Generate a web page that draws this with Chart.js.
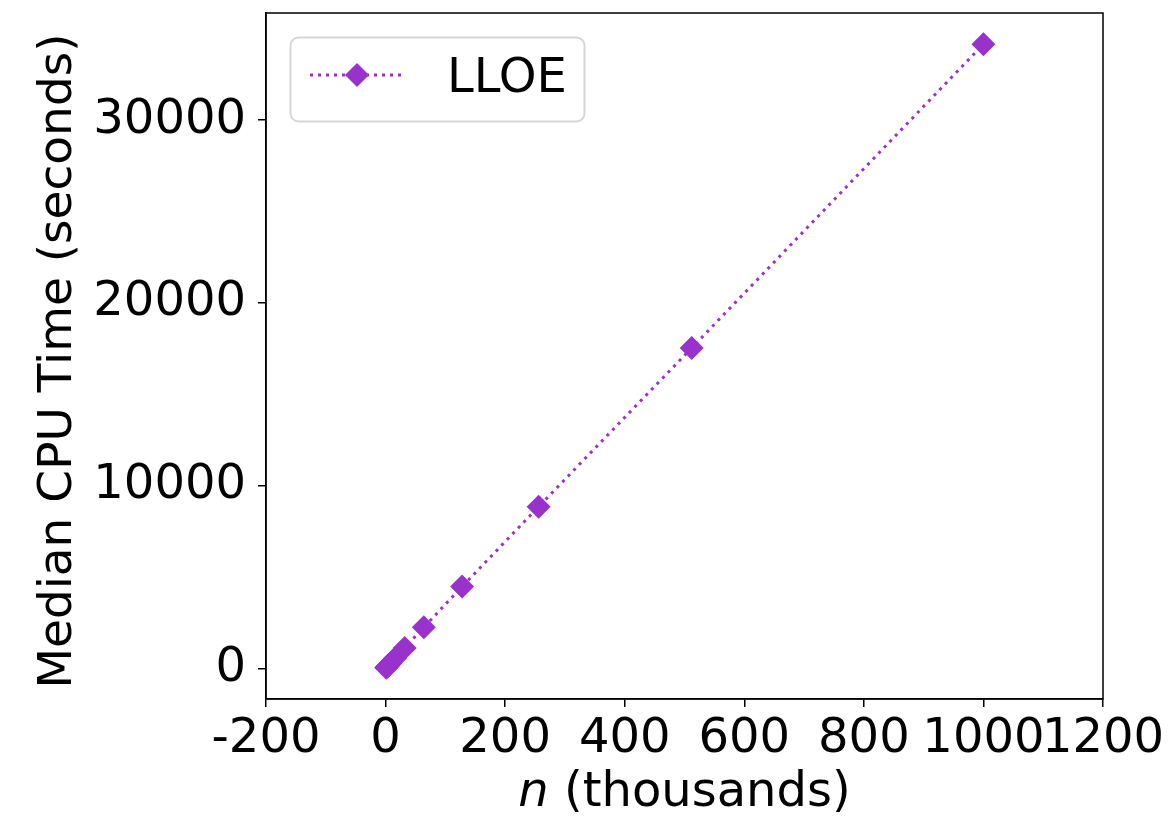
<!DOCTYPE html>
<html>
<head>
<meta charset="utf-8">
<script src="https://cdn.jsdelivr.net/npm/chart.js@4.4.1/dist/chart.umd.min.js"></script>
<style>
  html, body { margin: 0; padding: 0; background: #fff; }
  #wrap { width: 1174px; height: 825px; }
</style>
</head>
<body>
<div id="wrap"><canvas id="chart" width="1174" height="825"></canvas></div>
<script>
// --- Data ---
const nThousands = [1, 2, 4, 8, 16, 32, 64, 128, 256, 512, 1000];
const cpuSeconds = [35, 70, 140, 280, 560, 1120, 2255, 4480, 8850, 17530, 34150];
const xTicks = [-200, 0, 200, 400, 600, 800, 1000, 1200];
const yTicks = [0, 10000, 20000, 30000];
const seriesLabel = 'LLOE';
const xTitleItalic = 'n';
const xTitleRest = ' (thousands)';
const yTitle = 'Median CPU Time (seconds)';

const PURPLE = '#9932CC';
const FONT = '"DejaVu Sans", sans-serif';
const FONT_SIZE = 48;

// frame on top and right (matplotlib style box)
const framePlugin = {
  id: 'frame',
  afterDatasetsDraw(chart) {
    const { ctx, chartArea: a } = chart;
    ctx.save();
    ctx.strokeStyle = '#000';
    ctx.lineWidth = 1.5;
    ctx.strokeRect(a.left, a.top, a.right - a.left, a.bottom - a.top);
    ctx.restore();
  }
};

// axis titles, x title has an italic n
const titlesPlugin = {
  id: 'titles',
  afterDraw(chart) {
    const { ctx, chartArea: a } = chart;
    ctx.save();
    ctx.fillStyle = '#000';
    ctx.textBaseline = 'middle';
    ctx.textAlign = 'center';
    ctx.font = `47px ${FONT}`;
    ctx.translate(59, (a.top + a.bottom) / 2 + 5);
    ctx.rotate(-Math.PI / 2);
    ctx.fillText(yTitle, 0, 0);
    ctx.restore();

    ctx.save();
    ctx.fillStyle = '#000';
    ctx.textBaseline = 'alphabetic';
    ctx.textAlign = 'left';
    ctx.font = `italic ${FONT_SIZE}px ${FONT}`;
    const w1 = ctx.measureText(xTitleItalic).width;
    ctx.font = `${FONT_SIZE}px ${FONT}`;
    const w2 = ctx.measureText(xTitleRest).width;
    const x0 = (a.left + a.right) / 2 - (w1 + w2) / 2;
    const yb = 806;
    ctx.font = `italic ${FONT_SIZE}px ${FONT}`;
    ctx.fillText(xTitleItalic, x0, yb);
    ctx.font = `${FONT_SIZE}px ${FONT}`;
    ctx.fillText(xTitleRest, x0 + w1, yb);
    ctx.restore();
  }
};

// legend box inside the plot, upper left
const legendPlugin = {
  id: 'insideLegend',
  afterDraw(chart) {
    const { ctx } = chart;
    ctx.save();
    ctx.beginPath();
    ctx.roundRect(290.5, 37.5, 294, 84, 8);
    ctx.fillStyle = 'rgba(255,255,255,0.8)';
    ctx.fill();
    ctx.strokeStyle = '#d6d6d6';
    ctx.lineWidth = 2;
    ctx.stroke();

    ctx.beginPath();
    ctx.setLineDash([3, 5]);
    ctx.strokeStyle = PURPLE;
    ctx.lineWidth = 3;
    ctx.moveTo(310, 75);
    ctx.lineTo(406, 75);
    ctx.stroke();
    ctx.setLineDash([]);

    const cx = 357, cy = 75, r = 12;
    ctx.beginPath();
    ctx.moveTo(cx, cy - r);
    ctx.lineTo(cx + r, cy);
    ctx.lineTo(cx, cy + r);
    ctx.lineTo(cx - r, cy);
    ctx.closePath();
    ctx.fillStyle = PURPLE;
    ctx.fill();

    ctx.fillStyle = '#000';
    ctx.font = `${FONT_SIZE}px ${FONT}`;
    ctx.textBaseline = 'alphabetic';
    ctx.textAlign = 'left';
    ctx.fillText(seriesLabel, 447, 92);
    ctx.restore();
  }
};

const tickFont = { family: FONT, size: FONT_SIZE };

new Chart(document.getElementById('chart'), {
  type: 'scatter',
  data: {
    datasets: [{
      label: seriesLabel,
      data: nThousands.map((n, i) => ({ x: n, y: cpuSeconds[i] })),
      showLine: true,
      borderColor: PURPLE,
      backgroundColor: PURPLE,
      borderWidth: 3,
      borderDash: [3, 5],
      pointStyle: 'rectRot',
      pointRadius: 12,
      pointBorderWidth: 0,
      pointBackgroundColor: PURPLE,
      tension: 0
    }]
  },
  options: {
    responsive: false,
    devicePixelRatio: 1,
    animation: false,
    layout: { padding: { left: 0, right: 71, top: 13, bottom: 0 } },
    plugins: { legend: { display: false }, tooltip: { enabled: false } },
    scales: {
      x: {
        type: 'linear',
        min: -200,
        max: 1200,
        afterBuildTicks: s => { s.ticks = xTicks.map(v => ({ value: v })); },
        afterFit: s => { s.height = 126; s.paddingLeft = 0; s.paddingRight = 0; },
        ticks: {
          font: tickFont, color: '#000', padding: 4,
          maxRotation: 0, autoSkip: false,
          callback: v => String(v)
        },
        grid: { drawOnChartArea: false, tickLength: 8, color: '#000', lineWidth: 1.5 },
        border: { color: '#000', width: 1.5 }
      },
      y: {
        type: 'linear',
        min: -1670,
        max: 35855,
        afterBuildTicks: s => { s.ticks = yTicks.map(v => ({ value: v })); },
        afterFit: s => { s.width = 266; s.paddingTop = 0; s.paddingBottom = 0; },
        ticks: {
          font: tickFont, color: '#000', padding: 12,
          callback: v => String(v)
        },
        grid: { drawOnChartArea: false, tickLength: 8, color: '#000', lineWidth: 1.5 },
        border: { color: '#000', width: 1.5 }
      }
    }
  },
  plugins: [framePlugin, titlesPlugin, legendPlugin]
});
</script>
</body>
</html>
